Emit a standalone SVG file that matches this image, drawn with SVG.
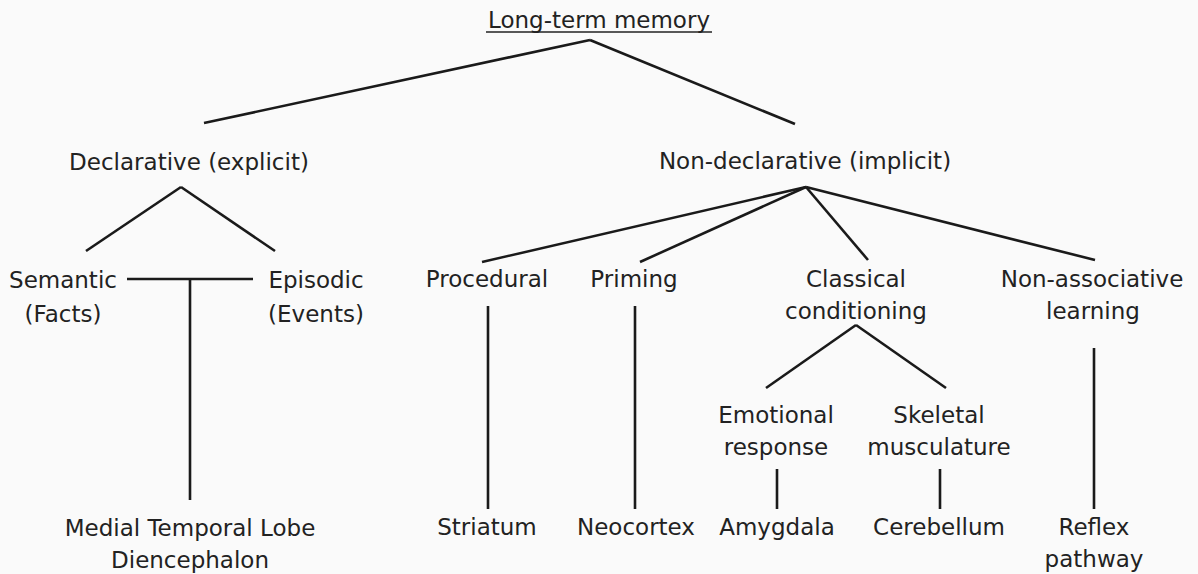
<svg xmlns="http://www.w3.org/2000/svg" width="1198" height="574" viewBox="0 0 1198 574">
<style>
text{font-family:"DejaVu Sans",Verdana,sans-serif;font-size:23px;fill:#222;text-anchor:middle}
.c line{stroke:#1a1a1a;stroke-width:2.6;stroke-linecap:butt}
</style>
<rect width="1198" height="574" fill="#fafafa"/>
<g class="c" id="connectors">
<line x1="590" y1="40" x2="204" y2="123"/>
<line x1="590" y1="40" x2="795" y2="124"/>
<line x1="181" y1="187" x2="86" y2="251"/>
<line x1="181" y1="187" x2="275" y2="251"/>
<line x1="127" y1="279" x2="253" y2="279"/>
<line x1="190" y1="279" x2="190" y2="500"/>
<line x1="806" y1="187" x2="482" y2="262"/>
<line x1="806" y1="187" x2="640" y2="262"/>
<line x1="806" y1="187" x2="868" y2="260"/>
<line x1="806" y1="187" x2="1095" y2="260"/>
<line x1="488" y1="306" x2="488" y2="509"/>
<line x1="635" y1="306" x2="635" y2="509"/>
<line x1="856" y1="325" x2="766" y2="388"/>
<line x1="856" y1="325" x2="946" y2="388"/>
<line x1="777" y1="469" x2="777" y2="509"/>
<line x1="940" y1="469" x2="940" y2="509"/>
<line x1="1094" y1="348" x2="1094" y2="509"/>
</g>
<g id="ltm"><text x="599" y="28">Long-term memory</text><line x1="486" y1="32" x2="712" y2="32" stroke="#222" stroke-width="1.5"/></g>
<g id="declarative"><text x="189" y="170">Declarative (explicit)</text></g>
<g id="nondeclarative"><text x="805" y="169">Non-declarative (implicit)</text></g>
<g id="semantic"><text x="63" y="288">Semantic</text><text x="63" y="322">(Facts)</text></g>
<g id="episodic"><text x="316" y="288">Episodic</text><text x="316" y="322">(Events)</text></g>
<g id="procedural"><text x="487" y="287">Procedural</text></g>
<g id="priming"><text x="634" y="287">Priming</text></g>
<g id="classical"><text x="856" y="287">Classical</text><text x="856" y="319">conditioning</text></g>
<g id="nonassoc"><text x="1092" y="287">Non-associative</text><text x="1093" y="319">learning</text></g>
<g id="emotional"><text x="776" y="423">Emotional</text><text x="776" y="455">response</text></g>
<g id="skeletal"><text x="939" y="423">Skeletal</text><text x="939" y="455">musculature</text></g>
<g id="mtl"><text x="190" y="536">Medial Temporal Lobe</text><text x="190" y="568">Diencephalon</text></g>
<g id="striatum"><text x="487" y="535">Striatum</text></g>
<g id="neocortex"><text x="636" y="535">Neocortex</text></g>
<g id="amygdala"><text x="777" y="535">Amygdala</text></g>
<g id="cerebellum"><text x="939" y="535">Cerebellum</text></g>
<g id="reflex"><text x="1094" y="535">Reflex</text><text x="1094" y="567">pathway</text></g>
</svg>
